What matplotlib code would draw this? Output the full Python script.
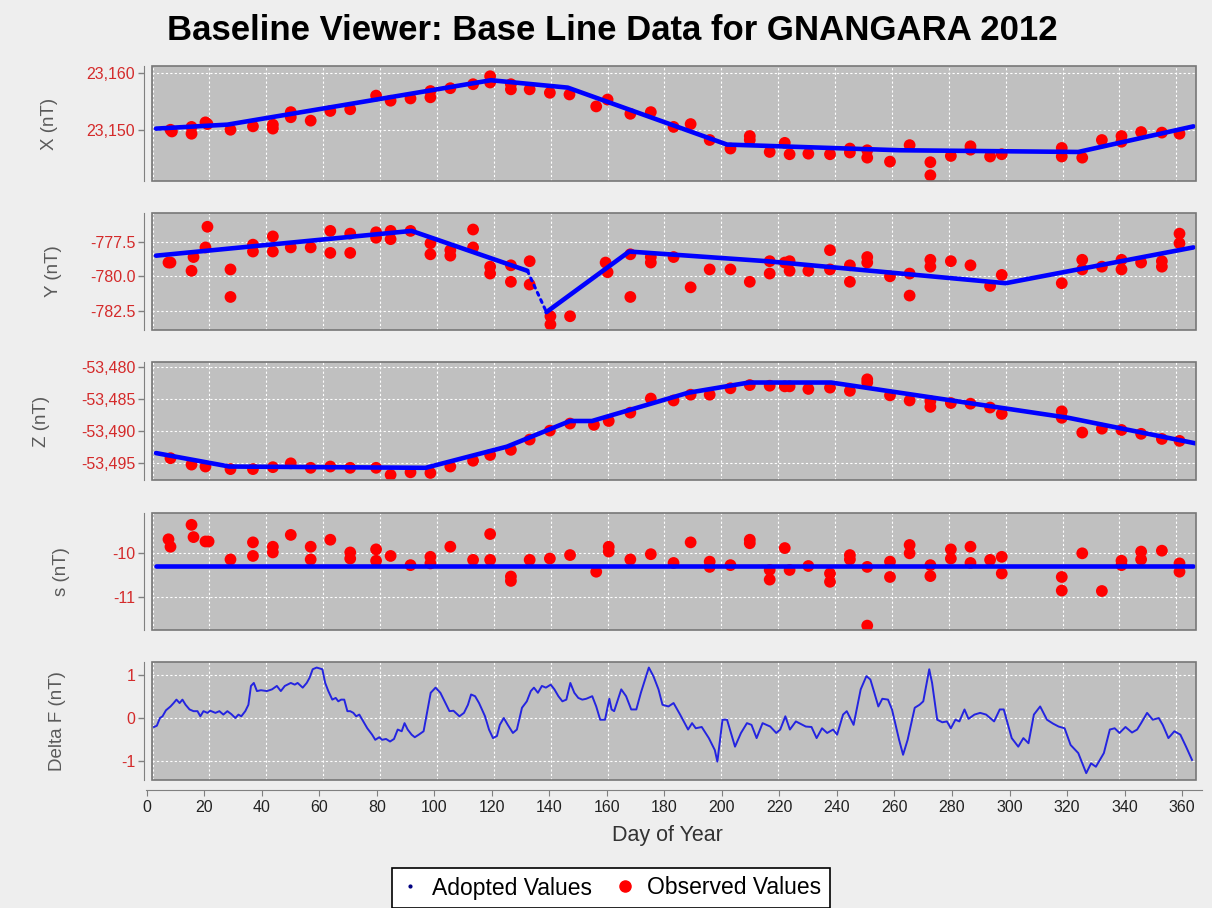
import matplotlib
matplotlib.use('Agg')
import matplotlib.pyplot as plt
from matplotlib.ticker import FixedLocator, FuncFormatter
from matplotlib.patches import Rectangle
from matplotlib.lines import Line2D

plt.rcParams['font.family'] = ['Liberation Sans', 'DejaVu Sans']

TITLE = "Baseline Viewer: Base Line Data for GNANGARA 2012"

# ---------------- X panel ----------------
obs_x_days = [6.3, 6.8, 13.7, 13.7, 18.6, 19.3, 27.4, 35.3, 42.3, 42.3, 48.6, 48.6, 55.6, 62.5, 69.5, 78.6,
              83.7, 90.7, 97.7, 97.7, 104.7, 112.7, 118.7, 118.7, 126.0, 126.0, 132.6, 139.7, 146.6, 156.0,
              160.0, 168.0, 175.2, 183.2, 189.2, 195.9, 203.2, 210.0, 210.0, 217.0, 222.3, 224.0, 230.6,
              238.2, 245.2, 245.2, 251.3, 251.3, 259.3, 266.2, 273.5, 273.5, 280.7, 287.6, 287.6, 294.5,
              298.6, 319.7, 319.7, 326.9, 333.8, 340.7, 340.7, 347.6, 354.9, 361.1]
obs_x_vals = [23150.0, 23149.7, 23150.5, 23149.3, 23151.3, 23151.0, 23150.0, 23150.6, 23150.9, 23150.2,
              23153.1, 23152.2, 23151.6, 23153.3, 23153.6, 23156.0, 23155.1, 23155.5, 23156.8, 23155.7,
              23157.3, 23158.0, 23159.4, 23158.3, 23158.0, 23157.1, 23157.1, 23156.5, 23156.2, 23154.1,
              23155.3, 23152.8, 23153.1, 23150.5, 23151.0, 23148.2, 23146.7, 23148.9, 23148.2, 23146.1,
              23147.7, 23145.7, 23145.8, 23145.7, 23146.7, 23146.0, 23146.4, 23145.1, 23144.4, 23147.3,
              23144.3, 23142.0, 23145.4, 23147.1, 23146.5, 23145.3, 23145.7, 23146.8, 23145.3, 23145.1,
              23148.2, 23148.9, 23147.9, 23149.6, 23149.5, 23149.3]
adopt_x_days = [1.2, 26.3, 119.0, 146.0, 202.0, 262.8, 325.5, 366.0]
adopt_x_vals = [23150.2, 23150.9, 23158.7, 23157.4, 23147.4, 23146.4, 23146.1, 23150.6]

# ---------------- Y panel ----------------
obs_y_days = [5.6, 6.3, 13.7, 14.4, 19.3, 18.6, 27.4, 27.4, 35.3, 35.3, 42.3, 42.3, 48.6, 55.6, 62.5, 62.5,
              69.5, 69.5, 78.6, 78.6, 83.7, 83.7, 90.7, 97.7, 97.7, 104.7, 104.7, 112.7, 112.7, 118.7, 118.7,
              126.0, 126.0, 132.6, 132.6, 139.9, 139.9, 146.8, 159.3, 160.0, 168.0, 168.0, 175.2, 175.2,
              183.2, 189.2, 195.9, 203.2, 210.0, 217.0, 217.0, 222.3, 224.0, 224.0, 230.6, 238.2, 238.2,
              245.2, 245.2, 251.3, 251.3, 259.3, 266.2, 266.2, 273.5, 273.5, 280.7, 287.6, 294.5, 298.6,
              319.7, 326.9, 326.9, 333.8, 340.7, 340.7, 347.6, 354.9, 354.9, 361.1, 361.1]
obs_y_vals = [-779.0, -779.0, -779.6, -778.6, -776.4, -777.9, -779.5, -781.5, -777.7, -778.2, -777.1, -778.2,
              -777.9, -777.9, -776.7, -778.3, -776.9, -778.3, -776.8, -777.2, -776.7, -777.3, -776.7, -777.6,
              -778.4, -778.1, -778.5, -776.6, -777.9, -779.3, -779.8, -779.2, -780.4, -778.9, -780.6, -782.9,
              -783.5, -782.9, -779.0, -779.7, -778.4, -781.5, -778.6, -779.0, -778.6, -780.8, -779.5, -779.5,
              -780.4, -778.9, -779.8, -779.0, -778.9, -779.6, -779.6, -778.1, -779.5, -779.2, -780.4, -778.6,
              -779.0, -780.0, -779.8, -781.4, -778.8, -779.3, -778.9, -779.2, -780.7, -779.9, -780.5, -778.8,
              -779.5, -779.3, -778.8, -779.5, -779.0, -778.9, -779.3, -776.9, -777.6]
adopt_y_days_a = [1.2, 91.1, 131.8]
adopt_y_vals_a = [-778.5, -776.7, -779.6]
adopt_y_days_gap = [131.8, 138.5]
adopt_y_vals_gap = [-779.6, -782.6]
adopt_y_days_b = [138.5, 167.6, 215.9, 300.0, 366.0]
adopt_y_vals_b = [-782.6, -778.2, -778.9, -780.5, -777.9]

# ---------------- Z panel ----------------
obs_z_days = [6.3, 13.7, 18.6, 27.4, 35.3, 42.3, 48.6, 55.6, 62.5, 69.5, 78.6, 83.7, 90.7, 97.7, 104.7, 112.7,
              118.7, 126.0, 132.6, 139.7, 146.8, 155.2, 160.4, 168.0, 175.2, 183.2, 189.2, 195.9, 203.2,
              210.0, 217.0, 222.3, 224.0, 230.6, 238.2, 245.2, 251.3, 251.3, 259.3, 266.2, 273.5, 273.5,
              280.7, 287.6, 294.5, 298.6, 319.7, 319.7, 326.9, 333.8, 340.7, 347.6, 354.9, 361.1]
obs_z_vals = [-53494.2, -53495.2, -53495.5, -53495.9, -53495.9, -53495.6, -53495.0, -53495.7, -53495.5,
              -53495.7, -53495.7, -53496.8, -53496.4, -53496.5, -53495.5, -53494.6, -53493.7, -53492.9,
              -53491.3, -53489.9, -53488.8, -53489.0, -53488.4, -53487.1, -53484.9, -53485.2, -53484.3,
              -53484.3, -53483.3, -53482.8, -53482.9, -53483.0, -53483.0, -53483.4, -53483.2, -53483.7,
              -53481.9, -53482.4, -53484.4, -53485.2, -53485.3, -53486.2, -53485.6, -53485.7, -53486.3,
              -53487.3, -53486.9, -53487.9, -53490.2, -53489.6, -53489.8, -53490.4, -53491.2, -53491.5]
adopt_z_days = [1.2, 27.0, 96.0, 124.6, 146.8, 154.5, 188.3, 209.7, 238.6, 322.0, 366.9]
adopt_z_vals = [-53493.4, -53495.5, -53495.7, -53492.4, -53488.4, -53488.4, -53484.0, -53482.4, -53482.4,
                -53487.9, -53491.9]

# ---------------- s panel ----------------
obs_s_days = [5.6, 6.3, 13.7, 14.4, 18.6, 19.7, 27.4, 35.3, 35.3, 42.3, 42.3, 48.6, 55.6, 55.6, 62.5, 69.5,
              69.5, 78.6, 78.6, 83.7, 90.7, 97.7, 97.7, 104.7, 112.7, 118.7, 118.7, 126.0, 126.0, 132.6,
              139.7, 146.8, 156.0, 160.4, 160.4, 168.0, 175.2, 183.2, 189.2, 195.9, 195.9, 203.2, 210.0,
              210.0, 217.0, 217.0, 222.3, 224.0, 230.6, 238.2, 238.2, 245.2, 245.2, 251.3, 251.3, 259.3,
              259.3, 266.2, 266.2, 273.5, 273.5, 280.7, 280.7, 287.6, 287.6, 294.5, 298.6, 298.6, 319.7,
              319.7, 326.9, 333.8, 340.7, 340.7, 347.6, 347.6, 354.9, 361.1, 361.1]
obs_s_vals = [-9.68, -9.85, -9.35, -9.63, -9.73, -9.73, -10.14, -9.75, -10.06, -9.85, -9.98, -9.58, -9.85,
              -10.14, -9.69, -9.98, -10.12, -9.91, -10.17, -10.06, -10.27, -10.08, -10.23, -9.85, -10.15,
              -9.56, -10.15, -10.53, -10.63, -10.15, -10.12, -10.04, -10.42, -9.85, -9.96, -10.14, -10.02,
              -10.22, -9.75, -10.19, -10.31, -10.27, -9.69, -9.77, -10.38, -10.6, -9.88, -10.38, -10.29,
              -10.46, -10.65, -10.04, -10.14, -10.31, -11.65, -10.19, -10.54, -9.81, -10.0, -10.27, -10.52,
              -9.91, -10.12, -9.85, -10.22, -10.15, -10.08, -10.46, -10.54, -10.85, -10.0, -10.86, -10.17,
              -10.27, -9.96, -10.14, -9.94, -10.23, -10.42]
adopt_s_days = [1.2, 366.0]
adopt_s_vals = [-10.285, -10.285]

# ---------------- Delta F panel ----------------
df_days = [0.5, 1.5, 2.6, 3.5, 4.7, 6.3, 7.4, 8.4, 9.5, 10.5, 11.6, 13.0, 14.4, 15.8, 16.8, 17.9, 19.3, 20.3,
           22.1, 23.5, 24.9, 26.3, 27.7, 29.1, 30.2, 31.2, 32.6, 33.7, 34.6, 35.6, 36.7, 38.1, 40.2, 42.0,
           43.7, 45.1, 46.5, 48.6, 50.0, 51.0, 52.8, 54.2, 55.2, 56.3, 57.7, 59.7, 60.7, 61.8, 63.2, 64.4,
           65.3, 66.3, 67.4, 68.5, 69.5, 70.6, 71.6, 72.7, 74.1, 75.5, 77.2, 78.3, 79.7, 80.7, 82.1, 83.5,
           84.9, 86.2, 87.6, 88.6, 89.7, 91.1, 92.2, 93.6, 95.3, 96.7, 97.8, 99.5, 101.2, 103.0, 104.4,
           105.8, 107.9, 109.5, 110.9, 112.0, 113.4, 114.8, 116.9, 118.3, 119.7, 121.1, 122.1, 123.5,
           124.9, 126.7, 128.1, 129.9, 131.6, 133.0, 134.1, 135.5, 136.9, 138.3, 140.0, 141.3, 142.7,
           144.1, 145.5, 146.9, 148.3, 149.7, 151.1, 152.5, 154.6, 156.0, 157.4, 159.1, 160.6,
           161.4, 162.3, 164.8, 166.5, 168.3, 170.1, 171.7, 174.5, 176.1, 177.9, 179.3, 181.4, 183.2,
           185.5, 188.3, 189.7, 191.0, 193.1, 195.6, 197.7, 198.6, 200.4, 202.0, 204.8, 206.9, 209.0,
           210.6, 212.4, 214.5, 217.2, 219.3, 220.7, 222.5, 224.1, 226.2, 229.7, 231.7, 233.5, 235.4,
           237.2, 239.3, 240.7, 242.8, 244.1, 246.5, 249.0, 251.0, 252.4, 253.8, 255.2, 256.6, 258.6,
           260.0, 262.5, 263.9, 265.5, 268.0, 269.7, 271.0, 273.1, 274.1, 275.9, 277.7, 279.3, 280.7,
           282.3, 283.7, 285.5, 286.9, 289.0, 291.0, 293.1, 295.9, 297.9, 299.3, 302.1, 304.4, 306.2,
           308.0, 309.9, 312.1, 314.5, 316.6, 318.6, 320.7, 322.8, 325.5, 328.3, 330.0, 331.7, 334.5,
           336.6, 338.3, 340.0, 342.1, 344.4, 346.2, 347.6, 349.7, 351.7, 353.8, 355.2, 357.2, 359.3,
           361.4, 363.4, 365.5]
df_vals = [-0.21, -0.18, 0.0, 0.04, 0.18, 0.27, 0.35, 0.43, 0.35, 0.43, 0.31, 0.2, 0.16, 0.16, 0.04, 0.16,
           0.12, 0.17, 0.12, 0.16, 0.08, 0.16, 0.09, 0.0, 0.08, 0.04, 0.16, 0.31, 0.75, 0.82, 0.63, 0.65,
           0.63, 0.67, 0.75, 0.63, 0.75, 0.82, 0.78, 0.82, 0.71, 0.82, 0.94, 1.14, 1.18, 1.14, 0.82, 0.63,
           0.43, 0.47, 0.39, 0.43, 0.43, 0.16, 0.16, 0.12, 0.04, 0.08, -0.08, -0.24, -0.39, -0.51, -0.45,
           -0.51, -0.49, -0.55, -0.49, -0.27, -0.31, -0.12, -0.27, -0.39, -0.45, -0.39, -0.31, 0.2, 0.59,
           0.71, 0.59, 0.35, 0.16, 0.17, 0.04, 0.12, 0.31, 0.55, 0.51, 0.35, 0.04, -0.27, -0.47, -0.42,
           -0.16, 0.0, -0.16, -0.35, -0.27, 0.24, 0.39, 0.63, 0.71, 0.59, 0.75, 0.71, 0.78, 0.67, 0.51,
           0.39, 0.43, 0.82, 0.59, 0.47, 0.43, 0.45, 0.51, 0.27, -0.04, -0.04, 0.45,
           0.2, 0.16, 0.67, 0.51, 0.2, 0.2, 0.59, 1.18, 0.98, 0.67, 0.31, 0.27, 0.35, 0.08, -0.27, -0.12,
           -0.24, -0.21, -0.47, -0.75, -1.02, -0.04, -0.04, -0.67, -0.35, -0.12, -0.16, -0.47, -0.12, -0.2,
           -0.35, -0.27, 0.04, -0.27, -0.08, -0.2, -0.21, -0.47, -0.24, -0.35, -0.27, -0.39, 0.08, 0.16,
           -0.16, 0.67, 0.98, 0.9, 0.59, 0.27, 0.45, 0.43, 0.2, -0.51, -0.86, -0.51, 0.24, 0.31, 0.39,
           1.14, 0.82, -0.04, -0.1, -0.08, -0.24, -0.04, -0.08, 0.2, -0.02, 0.08, 0.12, 0.08, -0.08, 0.2,
           0.2, -0.47, -0.67, -0.47, -0.59, 0.08, 0.27, -0.04, -0.13, -0.2, -0.24, -0.63, -0.82, -1.29,
           -1.06, -1.14, -0.82, -0.27, -0.24, -0.35, -0.21, -0.34, -0.27, -0.12, 0.12, -0.04, 0.0, -0.16,
           -0.47, -0.31, -0.39, -0.67, -0.98]

x_ticks = list(range(0, 361, 20))

# ---------------- layout ----------------
W, H = 1212, 908
BOX_L, BOX_R = 152, 1196
XMIN, XMAX = -0.2, 366.9
RED = '#D42A2A'
GRAY = '#808080'

fig = plt.figure(figsize=(W / 100, H / 100), dpi=100, facecolor='#EEEEEE')


def panel(top, bottom):
    ax = fig.add_axes([BOX_L / W, 1 - bottom / H, (BOX_R - BOX_L) / W, (bottom - top) / H])
    ax.set_facecolor('#C0C0C0')
    ax.set_xlim(XMIN, XMAX)
    ax.xaxis.set_major_locator(FixedLocator(x_ticks))
    ax.tick_params(axis='x', bottom=False, labelbottom=False)
    ax.grid(True, color='white', linestyle=(0, (2, 2)), linewidth=0.8)
    ax.set_axisbelow(True)
    for sp in ('top', 'right', 'bottom'):
        ax.spines[sp].set_visible(False)
    ax.spines['left'].set_position(('outward', 6))
    ax.spines['left'].set_color(GRAY)
    ax.add_patch(Rectangle((0, 0), 1, 1, transform=ax.transAxes, fill=False,
                           edgecolor='#777777', linewidth=1.2, zorder=6, clip_on=False))
    ax.tick_params(axis='y', colors=GRAY, labelcolor=RED, labelsize=11.5, length=4,
                   width=1, direction='out', pad=2)
    return ax


def label(ax, text, px):
    ax.set_ylabel(text, fontsize=13.5, color='#5a5a5a')
    ax.yaxis.label.set_va('center')
    ax.yaxis.set_label_coords((px - BOX_L) / (BOX_R - BOX_L), 0.5)


def observed(ax, d, v):
    ax.scatter(d, v, s=72, c='#FF0000', edgecolors='none', zorder=3)


def adopted(ax, d, v, **kw):
    style = dict(color='#0000FF', linewidth=3.3, zorder=4, solid_capstyle='round')
    style.update(kw)
    ax.plot(d, v, **style)


comma0 = FuncFormatter(lambda v, p: f"{v:,.0f}")

# X panel
axX = panel(66, 181)
observed(axX, obs_x_days, obs_x_vals)
adopted(axX, adopt_x_days, adopt_x_vals)
axX.set_ylim(23141.0, 23161.2)
axX.yaxis.set_major_locator(FixedLocator([23150, 23160]))
axX.yaxis.set_major_formatter(comma0)
label(axX, 'X (nT)', 50)

# Y panel
axY = panel(213, 330)
observed(axY, obs_y_days, obs_y_vals)
adopted(axY, adopt_y_days_a, adopt_y_vals_a)
adopted(axY, adopt_y_days_gap, adopt_y_vals_gap, linewidth=2.2, linestyle=(0, (1, 1.6)),
        dash_capstyle='round')
adopted(axY, adopt_y_days_b, adopt_y_vals_b)
axY.set_ylim(-783.9, -775.4)
axY.yaxis.set_major_locator(FixedLocator([-782.5, -780.0, -777.5]))
axY.yaxis.set_major_formatter(FuncFormatter(lambda v, p: f"{v:.1f}"))
label(axY, 'Y (nT)', 53)

# Z panel
axZ = panel(362, 480)
observed(axZ, obs_z_days, obs_z_vals)
adopted(axZ, adopt_z_days, adopt_z_vals)
axZ.set_ylim(-53497.6, -53479.2)
axZ.yaxis.set_major_locator(FixedLocator([-53495, -53490, -53485, -53480]))
axZ.yaxis.set_major_formatter(comma0)
label(axZ, 'Z (nT)', 42)

# s panel
axS = panel(513, 630)
observed(axS, obs_s_days, obs_s_vals)
adopted(axS, adopt_s_days, adopt_s_vals)
axS.set_ylim(-11.75, -9.08)
axS.yaxis.set_major_locator(FixedLocator([-11, -10]))
axS.yaxis.set_major_formatter(FuncFormatter(lambda v, p: f"{v:.0f}"))
label(axS, 's (nT)', 62)

# Delta F panel
axF = panel(662, 780)
n = min(len(df_days), len(df_vals))
axF.plot(df_days[:n], df_vals[:n], color='#2424E0', linewidth=1.4, zorder=4)
axF.set_ylim(-1.45, 1.31)
axF.yaxis.set_major_locator(FixedLocator([-1, 0, 1]))
axF.yaxis.set_major_formatter(FuncFormatter(lambda v, p: f"{v:.0f}"))
label(axF, 'Delta F (nT)', 57)

# shared domain axis (detached, slightly wider than the plot boxes)
axD = fig.add_axes([146 / W, 1 - 790 / H, 1056 / W, 0.0005])
axD.patch.set_visible(False)
axD.set_xlim(XMIN, XMAX)
for sp in ('top', 'right', 'left'):
    axD.spines[sp].set_visible(False)
axD.spines['bottom'].set_color(GRAY)
axD.set_yticks([])
axD.xaxis.set_major_locator(FixedLocator(x_ticks))
axD.tick_params(axis='x', colors=GRAY, labelcolor='#222222', labelsize=11.5, length=4, pad=3)

fig.text(667 / W, 1 - 836 / H, 'Day of Year', ha='center', va='center', fontsize=15.5, color='#333333')
fig.text(612 / W, 1 - 30 / H, TITLE, ha='center', va='center', fontsize=25, fontweight='bold',
         color='black')

handles = [Line2D([], [], linestyle='none', marker='.', markersize=4, color='#000080'),
           Line2D([], [], linestyle='none', marker='o', markersize=8, color='#FF0000')]
leg = fig.legend(handles, ['Adopted Values', 'Observed Values'], loc='center',
                 bbox_to_anchor=(611 / W, 1 - 888 / H), ncol=2, frameon=True, fancybox=False,
                 framealpha=1, edgecolor='black', fontsize=16.5, handlelength=0.8, handletextpad=0.6,
                 columnspacing=1.0, borderpad=0.35)
leg.get_frame().set_linewidth(1.2)

fig.savefig('out.png', dpi=100, facecolor=fig.get_facecolor())
